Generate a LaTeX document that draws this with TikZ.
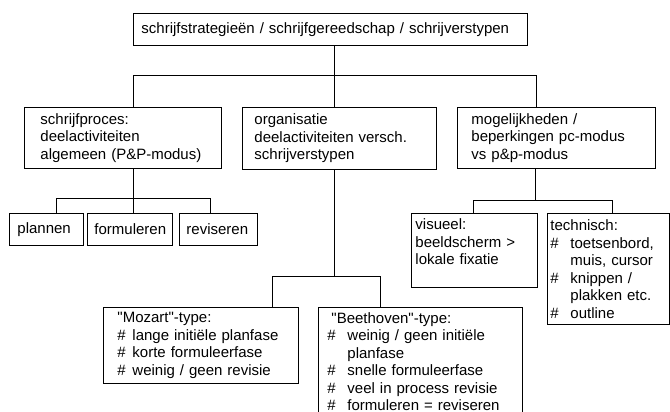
\documentclass[tikz,border=0pt]{standalone}
\usepackage{fontspec}
\setmainfont{Liberation Sans}
\begin{document}
\begin{tikzpicture}[x=1pt,y=-1pt,
  box/.style={draw, line width=0.9pt, anchor=north west, inner ysep=0pt, align=left,
    font=\fontsize{15}{17.5}\selectfont},
  conn/.style={draw, line width=0.9pt}]
\clip (0,0) rectangle (670,412);
\useasboundingbox (0,0) rectangle (670,412);
\newcommand\hs[1]{\makebox[#1pt][l]{\#}}
\newcommand\oneln[1]{\mbox{#1}}
\newcommand\qq{\textquotedbl}
% boxes
\node[box, minimum width=394pt, minimum height=32pt, text width=378pt, inner xsep=8pt] (top) at (133,13)
  {\oneln{schrijfstrategieën / schrijfgereedschap / schrijverstypen}};
\node[box, minimum width=197pt, minimum height=61pt, text width=165pt, inner xsep=16pt] (sp) at (24,107)
  {\oneln{schrijfproces:}\\\oneln{deelactiviteiten}\\\oneln{algemeen (P\&P-modus)}};
\node[box, minimum width=194pt, minimum height=62pt, text width=170pt, inner xsep=12pt] (org) at (242,107)
  {\oneln{organisatie}\\\oneln{deelactiviteiten versch.}\\\oneln{schrijverstypen}};
\node[box, minimum width=198pt, minimum height=61pt, text width=170pt, inner xsep=14pt] (mog) at (457,107)
  {\oneln{mogelijkheden /}\\\oneln{beperkingen pc-modus}\\\oneln{vs p\&p-modus}};
\node[box, minimum width=74pt, minimum height=32pt, text width=58pt, inner xsep=8pt] (pl) at (9,213) {\oneln{plannen}};
\node[box, minimum width=85pt, minimum height=32pt, text width=71pt, inner xsep=7pt] (form) at (87,213) {\oneln{formuleren}};
\node[box, minimum width=78pt, minimum height=32pt, text width=64pt, inner xsep=7pt] (rev) at (179,213) {\oneln{reviseren}};
\node[box, minimum width=126pt, minimum height=74pt, text width=118pt, inner xsep=4pt] (vis) at (411,213)
  {\oneln{visueel:}\\\oneln{beeldscherm >}\\\oneln{lokale fixatie}\\\mbox{}};
\node[box, minimum width=122pt, minimum height=111pt, text width=116pt, inner xsep=3pt] (tech) at (547,213)
  {\oneln{technisch:}\\\oneln{\hs{20}toetsenbord,}\\\oneln{\hspace*{20pt}muis, cursor}\\\oneln{\hs{20}knippen /}\\\oneln{\hspace*{20pt}plakken etc.}\\\oneln{\hs{20}outline}};
\node[box, minimum width=195pt, minimum height=76pt, text width=167pt, inner xsep=14pt] (moz) at (103,307)
  {\oneln{\qq Mozart\qq-type:}\\\oneln{\hs{15}lange initiële planfase}\\\oneln{\hs{15}korte formuleerfase}\\\oneln{\hs{15}weinig / geen revisie}};
\node[box, minimum width=204pt, minimum height=108pt, text width=186pt, inner xsep=9pt] (bee) at (318,307)
  {\oneln{\hspace*{4pt}\qq Beethoven\qq-type:}\\\oneln{\hs{20}weinig / geen initiële}\\\oneln{\hspace*{20pt}planfase}\\\oneln{\hs{20}snelle formuleerfase}\\\oneln{\hs{20}veel in process revisie}\\\oneln{\hs{20}formuleren = reviseren}};
% connector coordinates
\coordinate (spine) at (334,0);
\coordinate (lb) at (133,75);
\coordinate (rb) at (536,75);
\coordinate (b1) at (133,198);
\coordinate (p1) at (56,198);
\coordinate (p3) at (210,198);
\coordinate (o1) at (272,276);
\coordinate (o2) at (380,276);
\coordinate (m0) at (535,200);
\coordinate (m1) at (473,200);
\coordinate (m2) at (612,200);
% connectors
\draw[conn] (top.south -| spine) -- (org.north -| spine);
\draw[conn] (sp.north -| lb) -- (lb) -- (rb) -- (mog.north -| rb);
\draw[conn] (sp.south -| b1) -- (form.north -| b1);
\draw[conn] (pl.north -| p1) -- (p1) -- (p3) -- (rev.north -| p3);
\draw[conn] (org.south -| spine) -- (spine |- o1);
\draw[conn] (moz.north -| o1) -- (o1) -- (o2) -- (bee.north -| o2);
\draw[conn] (mog.south -| m0) -- (m0);
\draw[conn] (vis.north -| m1) -- (m1) -- (m2) -- (tech.north -| m2);
\end{tikzpicture}
\end{document}
